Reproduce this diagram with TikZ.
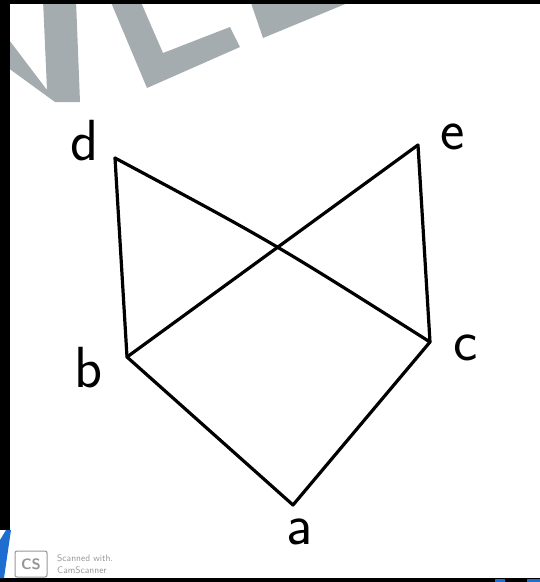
\documentclass[tikz,border=0pt]{standalone}
\usepackage{fontspec}
\usetikzlibrary{calc}
\definecolor{wmgray}{RGB}{165,172,176}
\definecolor{csgray}{RGB}{150,150,150}
\definecolor{scanblue}{RGB}{30,110,210}
\tikzset{
  edge/.style={line width=3.2pt,line cap=round,line join=round},
  lbl/.style={font=\sffamily\fontsize{58}{58}\selectfont,inner sep=0pt},
}

\begin{document}
\begin{tikzpicture}[x=1pt,y=-1pt]
 \useasboundingbox (0,0) rectangle (540,582);
 % watermark
 \fill[wmgray] (0,28) -- (47,90) -- (43,0) -- (76,0) -- (80,102) -- (55,102) -- (0,62) -- cycle;
 \fill[wmgray] (110,0) -- (147,88) -- (240,47) -- (230,27) -- (163,53) -- (140,0) -- cycle;
 \fill[wmgray] (250,0) -- (263,38) -- (355,0) -- cycle;
 % scan border
 \fill[black] (0,0) rectangle (540,4);
 \fill[black] (0,0) rectangle (10,530);
 \fill[black] (0,578) rectangle (540,582);
 \fill[scanblue] (0,540) -- (6,530) -- (11,530) -- (4,578) -- (0,578) -- cycle;
 \fill[scanblue] (495,579) rectangle (505,582) (527,579) rectangle (540,582);
 % vertices
 \coordinate (d) at (115,158);
 \coordinate (e) at (418,145);
 \coordinate (b) at (127,357);
 \coordinate (c) at (430,342);
 \coordinate (a) at (293,505);
 % edges
 \draw[edge] (d) -- (b);
 \draw[edge] (e) -- (c);
 \draw[edge] (d) .. controls (272,242) .. (c);
 \draw[edge] (e) -- (b);
 \draw[edge] (b) -- (a) -- (c);
 % labels
 \node[lbl] (ld) at (85,141) {d};
 \node[lbl] (le) at (453,137) {e};
 \node[lbl] (lb) at (89,368) {b};
 \node[lbl] (lc) at (466,348) {c};
 \node[lbl] (la) at (300,532) {a};
 % stamp
 \node[draw=csgray,rounded corners=2pt,line width=1pt,text=csgray,font=\sffamily\bfseries\fontsize{15}{15}\selectfont,minimum width=32pt,minimum height=26pt,inner sep=0pt] (cs) at (31,564) {CS};
 \node[anchor=west,text=csgray,font=\sffamily\fontsize{9.5}{12}\selectfont,align=left,inner sep=0pt] (scan) at (57,564) {Scanned with.\\CamScanner};
\end{tikzpicture}
\end{document}
